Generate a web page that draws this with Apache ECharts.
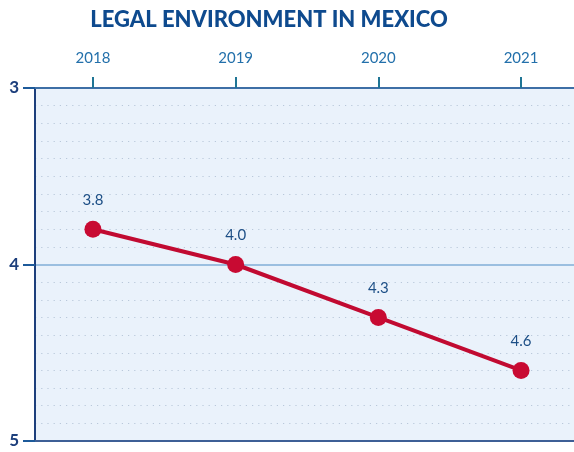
<!DOCTYPE html>
<html>
<head>
<meta charset="utf-8">
<script src="https://cdn.jsdelivr.net/npm/echarts@6/dist/echarts.min.js"></script>
<style>
  html, body { margin: 0; padding: 0; background: #ffffff; }
  #chart { width: 574px; height: 452px; }
</style>
</head>
<body>
<div id="chart"></div>
<script>
// Legal environment scores for Mexico, by year (lower is better, axis runs 3 → 5)
const years = [2018, 2019, 2020, 2021];
const scores = [3.8, 4.0, 4.3, 4.6];
const yTicks = [3, 4, 5];

const chart = echarts.init(document.getElementById('chart'));
const font = 'Lato, "Open Sans", sans-serif';

chart.setOption({
  animation: false,
  title: {
    text: 'LEGAL ENVIRONMENT IN MEXICO',
    left: 264,
    textAlign: 'center',
    top: 4,
    textStyle: { color: '#0e4a8e', fontSize: 22, fontWeight: 900, fontFamily: font }
  },
  grid: {
    left: 35, right: 0, top: 88, bottom: 11,
    show: true, backgroundColor: '#eaf2fb', borderWidth: 0
  },
  xAxis: [{
    type: 'value',
    position: 'top',
    min: 2017.594,
    max: 2021.371,
    axisLine: { show: true, lineStyle: { color: '#3d6fa6', width: 2 } },
    axisTick: { show: true, customValues: years, length: 11, lineStyle: { color: '#1f7595', width: 2 } },
    axisLabel: {
      customValues: years, color: '#2370ab', fontSize: 15, fontFamily: font, margin: 22,
      formatter: v => String(v)
    },
    splitLine: { show: false }
  }, {
    type: 'value',
    position: 'bottom',
    min: 2017.594,
    max: 2021.371,
    axisLine: { show: true, onZero: false, lineStyle: { color: '#3d5f96', width: 2 } },
    axisTick: { show: false },
    axisLabel: { show: false },
    splitLine: { show: false }
  }],
  yAxis: {
    type: 'value',
    inverse: true,
    min: 3, max: 5, interval: 1,
    axisLine: { show: true, lineStyle: { color: '#1d3f7c', width: 2 } },
    axisTick: { show: true, length: 12, lineStyle: { color: '#1d5a9a', width: 2 } },
    axisLabel: {
      color: '#1d3f7c', fontSize: 17, fontWeight: 'bold', fontFamily: font, margin: 16,
      customValues: yTicks
    },
    splitLine: { show: true, lineStyle: { color: '#9bbfe0', width: 2 } },
    minorTick: { show: false, splitNumber: 10 },
    minorSplitLine: { show: true, lineStyle: { color: '#b9c8da', width: 1.2, type: [1.2, 5] } }
  },
  series: [{
    type: 'line',
    data: years.map((y, i) => [y, scores[i]]),
    lineStyle: { color: '#c10a31', width: 4 },
    itemStyle: { color: '#c80a32' },
    symbol: 'circle',
    symbolSize: 17,
    label: {
      show: true, position: 'top', distance: 13,
      color: '#1d4f86', fontSize: 15, fontFamily: font,
      formatter: p => p.value[1].toFixed(1)
    }
  }]
});
</script>
</body>
</html>
